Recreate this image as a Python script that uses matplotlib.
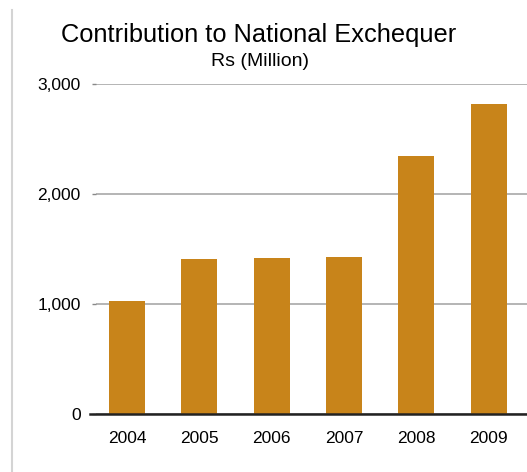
import matplotlib
matplotlib.use("Agg")
import matplotlib.pyplot as plt
from matplotlib.lines import Line2D
from matplotlib.ticker import FuncFormatter

years = ["2004", "2005", "2006", "2007", "2008", "2009"]
contribution = [1025, 1410, 1415, 1430, 2345, 2820]  # Rs million

bar_color = "#c8841a"
grid_color = "#a8a8a8"

plt.rcParams["font.family"] = ["Liberation Sans", "DejaVu Sans"]

fig = plt.figure(figsize=(5.27, 4.72), dpi=100)
ax = fig.add_axes([96 / 527, 1 - 414 / 472, 1 - 96 / 527, 330 / 472])

x = range(len(years))
ax.bar(x, contribution, width=0.5, color=bar_color, zorder=3)

ax.set_xlim(-0.43, 5.53)
ax.set_ylim(0, 3000)
ax.set_yticks([0, 1000, 2000, 3000])
ax.yaxis.set_major_formatter(FuncFormatter(lambda v, p: f"{int(v):,}"))
ax.set_xticks(list(x))
ax.set_xticklabels(years)

for s in ax.spines.values():
    s.set_visible(False)
ax.grid(axis="y", color=grid_color, linewidth=1.2, zorder=1)
ax.tick_params(axis="y", length=3, width=1, color="#888888", pad=8, labelsize=12.5)
ax.tick_params(axis="x", length=0, pad=12, labelsize=12.5)

# dark baseline
ax.axhline(0, xmin=-0.015, xmax=1, color="#222222", linewidth=1.8, zorder=4, clip_on=False)

# light frame line at left
fig.add_artist(Line2D([12 / 527, 12 / 527], [0, 1 - 10 / 472], color="#d4d4d4", linewidth=1.5))

fig.text(259 / 527, 1 - 35 / 472, "Contribution to National Exchequer", ha="center", va="center", fontsize=18.3)
fig.text(260 / 527, 1 - 62 / 472, "Rs (Million)", ha="center", va="center", fontsize=14)

fig.savefig("out.png", dpi=100)
